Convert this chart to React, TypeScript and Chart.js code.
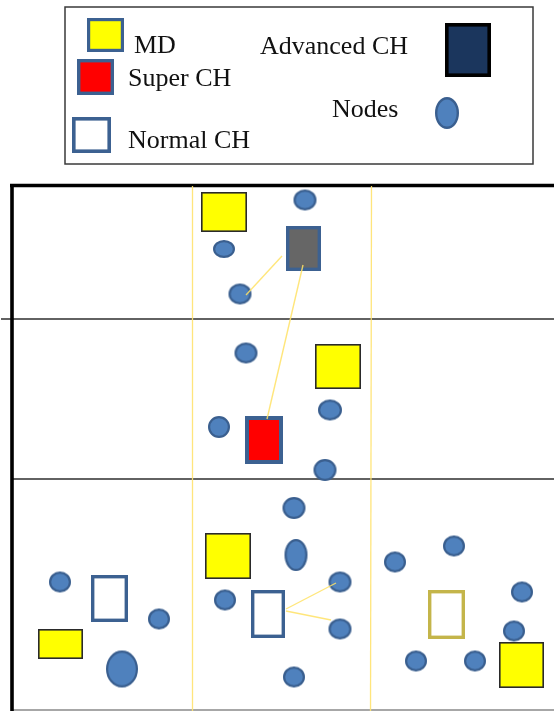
import React, { useEffect, useRef } from "react";
import { Chart, registerables } from "chart.js";

Chart.register(...registerables);

// ---- Diagram data (diagram units; x: 0..554, y: 0..711 downward) ----
const nodeX = [305, 224, 240, 246, 330, 219, 325, 294, 296, 60, 159, 122, 225, 340, 340, 294, 395, 454, 522, 514, 416, 475];
const nodeY = [200, 249, 294, 353, 410, 427, 470, 508, 555, 582, 619, 669, 600, 582, 629, 677, 562, 546, 592, 631, 661, 661];

const mdX = [224, 338, 228, 60.5, 521.5];
const mdY = [212, 366.5, 556, 644, 665];

const superX = [264];
const superY = [440];

const advancedX = [303.5];
const advancedY = [248.5];

const normalX = [109.5, 268];
const normalY = [598.5, 614];

const candidateX = [446.5];
const candidateY = [614.5];

// links: [fromX, fromY, toX, toY]
const links = [
  [246, 295, 282, 256],
  [303, 265, 267, 419],
  [286, 609, 336, 583],
  [286, 611, 331, 620],
];

// region borders: [x1, y1, x2, y2]
const frameLines = [
  [10, 185.5, 554, 185.5],
  [12, 184, 12, 711],
];
const regionLines = [
  [1, 319, 554, 319],
  [12, 479, 554, 479],
];
const bottomLines = [[12, 710, 554, 710]];
const columnLines = [
  [192.5, 186, 192.5, 711],
  [371.5, 186, 370.5, 711],
];

const legendLabels = ["MD", "Super CH", "Normal CH", "Advanced CH", "Nodes"];

// ---- Styles (kept apart from data) ----
const nodeRx = [11.5, 11, 11.5, 11.5, 12, 11, 11.5, 11.5, 11.5, 11, 11, 16, 11, 11.5, 11.5, 11, 11, 11, 11, 11, 11, 11];
const nodeRy = [10.5, 9, 10.5, 10.5, 10.5, 11, 11, 11, 16, 10.5, 10.5, 18.5, 10.5, 10.5, 10.5, 10.5, 10.5, 10.5, 10.5, 10.5, 10.5, 10.5];
const mdW = [46, 46, 46, 45, 45];
const mdH = [40, 45, 46, 30, 46];

const BLUE_FILL = "#4f81bd";
const BLUE_EDGE = "#3a5f8f";
const RECT_EDGE = "#3c6191";
const YELLOW = "#ffff00";
const LINK = "rgba(255, 226, 100, 0.85)";
const FONT = '26px "Liberation Serif", "Times New Roman", serif';

function ellipseImg(rx: number, ry: number, fill: string, stroke: string, lw: number) {
  const c = document.createElement("canvas");
  c.width = Math.round(rx * 2) + 2;
  c.height = Math.round(ry * 2) + 2;
  const g = c.getContext("2d")!;
  g.beginPath();
  g.ellipse(c.width / 2, c.height / 2, rx - lw / 2, ry - lw / 2, 0, 0, Math.PI * 2);
  g.fillStyle = fill;
  g.fill();
  g.lineWidth = lw;
  g.strokeStyle = stroke;
  g.stroke();
  return c;
}

function rectImg(w: number, h: number, fill: string | null, stroke: string, lw: number) {
  const c = document.createElement("canvas");
  c.width = Math.round(w);
  c.height = Math.round(h);
  const g = c.getContext("2d")!;
  if (fill) {
    g.fillStyle = fill;
    g.fillRect(0, 0, c.width, c.height);
  }
  g.lineWidth = lw;
  g.strokeStyle = stroke;
  g.strokeRect(lw / 2, lw / 2, c.width - lw, c.height - lw);
  return c;
}

function pts(xs: number[], ys: number[]) {
  return xs.map((x, i) => ({ x, y: ys[i] }));
}

function segDatasets(segs: number[][], color: string, width: number, order: number) {
  return segs.map((s) => ({
    type: "scatter" as const,
    data: [
      { x: s[0], y: s[1] },
      { x: s[2], y: s[3] },
    ],
    showLine: true,
    borderColor: color,
    borderWidth: width,
    pointRadius: 0,
    pointHoverRadius: 0,
    clip: false as any,
    order,
  }));
}

export default function App() {
  const ref = useRef<HTMLCanvasElement | null>(null);

  useEffect(() => {
    const canvas = ref.current;
    if (!canvas) return;
    document.body.style.margin = "0";

    const nodeImgs = nodeX.map((_, i) => ellipseImg(nodeRx[i], nodeRy[i], BLUE_FILL, BLUE_EDGE, 2.2));
    const mdImgs = mdX.map((_, i) => rectImg(mdW[i], mdH[i], YELLOW, "#2a2a2a", 1.6));
    const superImg = rectImg(38, 48, "#ff0000", RECT_EDGE, 4);
    const advImg = rectImg(35, 45, "#666666", RECT_EDGE, 3.4);
    const normalImgs = [rectImg(37, 47, "#ffffff", RECT_EDGE, 3.4), rectImg(34, 48, "#ffffff", RECT_EDGE, 3.4)];
    const candImg = rectImg(37, 49, "#ffffff", "#c4b54a", 3.4);

    // legend images
    const lgMD = rectImg(37, 34, YELLOW, RECT_EDGE, 3.2);
    const lgSuper = rectImg(37, 36, "#ff0000", RECT_EDGE, 3.4);
    const lgNormal = rectImg(39, 36, "#ffffff", RECT_EDGE, 3.6);
    const lgAdv = rectImg(46, 54, "#1b365d", "#000000", 3.6);
    const lgNode = ellipseImg(12, 16, BLUE_FILL, BLUE_EDGE, 2.4);

    const legendPlugin = {
      id: "diagramLegend",
      beforeDatasetsDraw(chart: any) {
        const { ctx, scales } = chart;
        const X = (v: number) => scales.x.getPixelForValue(v);
        const Y = (v: number) => scales.y.getPixelForValue(v);
        ctx.save();
        ctx.fillStyle = "#ffffff";
        ctx.fillRect(0, 0, chart.width, chart.height);
        // legend frame
        ctx.strokeStyle = "#3a3a3a";
        ctx.lineWidth = 1.5;
        ctx.strokeRect(X(65), Y(7), X(533) - X(65), Y(164) - Y(7));
        const put = (img: HTMLCanvasElement, cx: number, cy: number) =>
          ctx.drawImage(img, Math.round(X(cx) - img.width / 2), Math.round(Y(cy) - img.height / 2));
        put(lgMD, 105.5, 35);
        put(lgSuper, 95.5, 77);
        put(lgNormal, 91.5, 135);
        put(lgAdv, 468, 50);
        put(lgNode, 447, 113);
        ctx.fillStyle = "#111111";
        ctx.font = FONT;
        ctx.textBaseline = "alphabetic";
        ctx.textAlign = "left";
        ctx.fillText(legendLabels[0], X(134), Y(53));
        ctx.fillText(legendLabels[1], X(128), Y(86));
        ctx.fillText(legendLabels[2], X(128), Y(148));
        ctx.fillText(legendLabels[3], X(260), Y(54));
        ctx.fillText(legendLabels[4], X(332), Y(117));
        ctx.restore();
      },
    };

    const datasets: any[] = [
      ...segDatasets(frameLines, "#000000", 3.6, 20),
      ...segDatasets(regionLines, "#2e2e2e", 1.6, 20),
      ...segDatasets(bottomLines, "#8a8a8a", 1.6, 20),
      ...segDatasets(columnLines, "rgba(255, 226, 110, 0.9)", 1.3, 19),
      {
        type: "scatter",
        data: pts(mdX, mdY),
        pointStyle: mdImgs,
        pointRadius: 12,
        order: 6,
      },
      {
        type: "scatter",
        data: pts(superX, superY),
        pointStyle: superImg,
        pointRadius: 12,
        order: 6,
      },
      {
        type: "scatter",
        data: pts(advancedX, advancedY),
        pointStyle: advImg,
        pointRadius: 12,
        order: 6,
      },
      {
        type: "scatter",
        data: pts(normalX, normalY),
        pointStyle: normalImgs,
        pointRadius: 12,
        order: 6,
      },
      {
        type: "scatter",
        data: pts(candidateX, candidateY),
        pointStyle: candImg,
        pointRadius: 12,
        order: 6,
      },
      {
        type: "scatter",
        data: pts(nodeX, nodeY),
        pointStyle: nodeImgs,
        pointRadius: 12,
        order: 4,
      },
      ...segDatasets(links, LINK, 1.4, 1),
    ];

    const chart = new Chart(canvas, {
      type: "scatter",
      data: { datasets },
      options: {
        animation: false,
        responsive: false,
        devicePixelRatio: 1,
        layout: { padding: 0, autoPadding: false },
        events: [],
        plugins: {
          legend: { display: false },
          tooltip: { enabled: false },
          title: { display: false },
        },
        scales: {
          x: { type: "linear", min: 0, max: 554, display: false },
          y: { type: "linear", min: 0, max: 711, reverse: true, display: false },
        },
      },
      plugins: [legendPlugin],
    });
    return () => chart.destroy();
  }, []);

  return (
    <div style={{ position: "absolute", left: 0, top: 0, width: 554, height: 711 }}>
      <canvas ref={ref} width={554} height={711} style={{ display: "block", width: 554, height: 711 }} />
    </div>
  );
}
